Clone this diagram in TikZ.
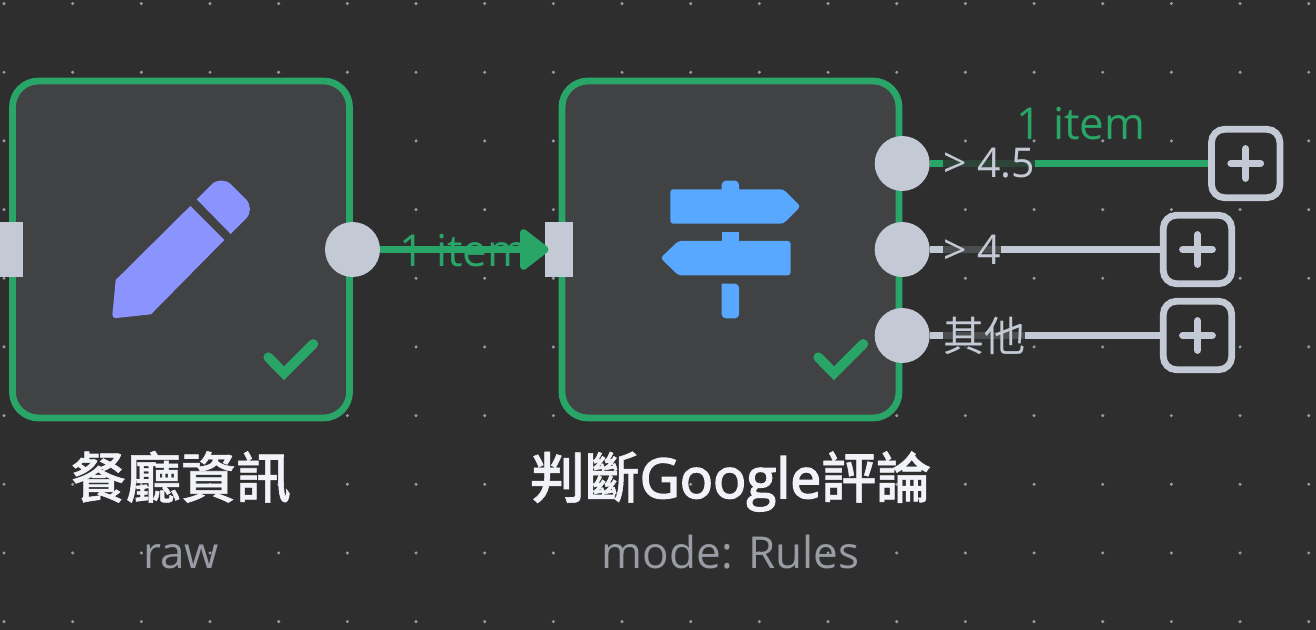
\documentclass[tikz,border=0pt]{standalone}
\usepackage{fontspec}
\setmainfont{Open Sans}
\newfontfamily\cjk{Noto Sans CJK TC}
\newfontfamily\cjkmed[FakeBold=1]{Noto Sans CJK TC Medium}
\newfontfamily\semi[FakeBold=3]{Open Sans}
\usetikzlibrary{arrows.meta}
\definecolor{canvas}{HTML}{2E2E2E}
\definecolor{nodebg}{HTML}{414244}
\definecolor{okgreen}{HTML}{2AA568}
\definecolor{portgray}{HTML}{C3C9D5}
\definecolor{subgray}{HTML}{9A9CA4}
\definecolor{griddot}{HTML}{989AA6}
\definecolor{titlewhite}{HTML}{F2F3F8}
\definecolor{pencilblue}{HTML}{8B93FF}
\definecolor{signblue}{HTML}{58A8FF}
\begin{document}
\begin{tikzpicture}[x=0.5pt,y=-0.5pt]
	\tikzstyle{card} = [draw=okgreen, fill=nodebg, line width=3.4pt, rounded corners=13pt, minimum width=168.5pt, minimum height=168.5pt, inner sep=0]
	\tikzstyle{outport} = [circle, fill=portgray, minimum size=27.5pt, inner sep=0]
	\tikzstyle{inport} = [rectangle, fill=portgray, minimum width=13.9pt, minimum height=27.5pt, inner sep=0]
	\tikzstyle{plusbox} = [draw=portgray, fill=canvas, line width=3.4pt, rounded corners=6.5pt, minimum size=34.2pt, inner sep=0,
		path picture={\draw[portgray, line width=3.6pt, line cap=round] ([xshift=-7.4pt]path picture bounding box.center) -- ([xshift=7.4pt]path picture bounding box.center) ([yshift=-7.4pt]path picture bounding box.center) -- ([yshift=7.4pt]path picture bounding box.center);}]
	\tikzstyle{wire} = [line width=3.6pt]
	\tikzstyle{tick} = [okgreen, line width=4.9pt, line cap=round, miter limit=10]
	\tikzstyle{title} = [titlewhite, anchor=base, inner sep=0, font=\fontsize{27.5}{34}\selectfont\semi]
	\tikzstyle{subtitle} = [subgray, anchor=base, inner sep=0, font=\fontsize{22}{26}\selectfont]
	\tikzstyle{count} = [okgreen, anchor=base, inner sep=0, font=\fontsize{22}{26}\selectfont]
	\tikzstyle{branch} = [portgray, fill=canvas, fill opacity=0.8, text opacity=1, anchor=west, inner sep=0, minimum height=20pt, font=\fontsize{20.5}{24}\selectfont]

	\path[use as bounding box, fill=canvas] (0,0) rectangle (1316,630);

	% dot grid
	\foreach \i in {0,...,19}
		\foreach \j in {0,...,9}
			\fill[griddot] (4+68.67*\i,3.6+68.67*\j) circle (0.85pt);

	\node [card] (raw) at (181,249.5) {};
	\node [card] (rules) at (730.5,249.5) {};

	% pencil
	\fill[pencilblue] (190.3,206) -- (224.3,240) -- (151,314.3) [rounded corners=2pt] -- (112,318.5) [sharp corners] -- (115.7,280) -- cycle;
	\fill[pencilblue] (196.7,199.3) [rounded corners=7pt] -- (221.3,174.7) -- (255.7,209) [sharp corners] -- (230.7,234) -- cycle;

	% signpost
	\fill[signblue, rounded corners=2pt] (721.7,195) -- (721.7,180.7) -- (739,180.7) -- (739,195) -- cycle;
	\fill[signblue, rounded corners=1.5pt] (670.3,189.3) -- (783.3,189.3) -- (800.5,206.5) -- (783.3,223.7) -- (670.3,223.7) -- cycle;
	\fill[signblue] (721.7,232) rectangle (739,245);
	\fill[signblue, rounded corners=1.5pt] (790.7,241) -- (678.3,241) -- (660.5,258) -- (678.3,275.3) -- (790.7,275.3) -- cycle;
	\fill[signblue] (721.7,283.7) [rounded corners=2pt] -- (739,283.7) -- (739,318.3) -- (721.7,318.3) [sharp corners] -- cycle;

	% checks
	\draw[tick] (268.3,357.3) -- (284,373.3) -- (313.3,344);
	\draw[tick] (818.3,357.3) -- (834,373.3) -- (863.3,344);

	\node [inport] (in1) at (9.1,249.5) {};
	\node [inport] (in2) at (558.9,249.5) {};
	\node [outport] (out1) at (352.5,249.5) {};
	\node [outport] (out2) at (902.2,163.5) {};
	\node [outport] (out3) at (902.2,249.5) {};
	\node [outport] (out4) at (902.2,335.5) {};

	\node [plusbox] (add1) at (1245.7,163.5) {};
	\node [plusbox] (add2) at (1197.5,249.5) {};
	\node [plusbox] (add3) at (1197.5,335.5) {};

	\node [count] (n1) at (464,267) {1 item};
	\node [count] (n2) at (1081,140) {1 item};

	\draw [wire, okgreen, -{Triangle[length=15.5pt,width=23pt,round]}, shorten >=-2pt] (out1) -- (in2.west);
	\draw [wire, okgreen] (out2) -- (add1);
	\draw [wire, portgray] (out3) -- (add2);
	\draw [wire, portgray] (out4) -- (add3);

	\node [branch] (b1) at (943,163.5) {> 4.5};
	\node [branch] (b2) at (943,249.5) {> 4};
	\node [branch] (b3) at (943,335.5) {\cjk 其他};

	\node [title] (t1) at (181,498) {\cjkmed 餐廳資訊};
	\node [title] (t2) at (730.5,498) {{\cjkmed 判斷}Google{\cjkmed 評論}};
	\node [subtitle] (s1) at (181,568) {raw};
	\node [subtitle] (s2) at (730.5,568) {mode: Rules};
\end{tikzpicture}
\end{document}
